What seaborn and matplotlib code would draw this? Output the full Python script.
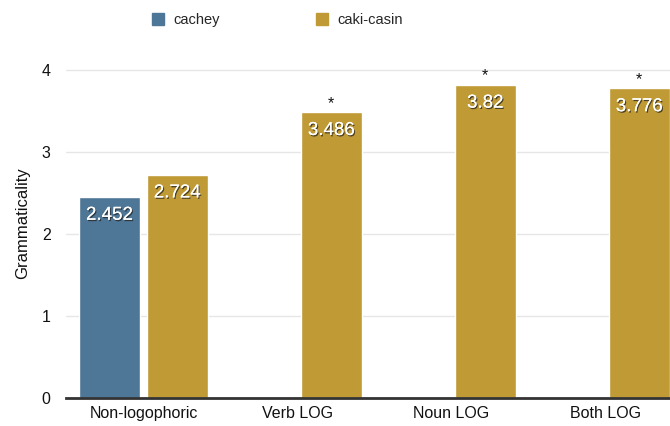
import numpy as np
import pandas as pd
import matplotlib
matplotlib.use("Agg")
import matplotlib.pyplot as plt
import matplotlib.patheffects as pe
from matplotlib.lines import Line2D
import seaborn as sns

# Mean grammaticality ratings per condition
categories = ["Non-logophoric", "Verb LOG", "Noun LOG", "Both LOG"]
cachey = [2.452, np.nan, np.nan, np.nan]
caki_casin = [2.724, 3.486, 3.82, 3.776]
significance = ["", "*", "*", "*"]
series_names = ["cachey", "caki-casin"]
colors = ["#4e7696", "#c09a34"]

rows = []
for cat, a, b in zip(categories, cachey, caki_casin):
    if not np.isnan(a):
        rows.append({"condition": cat, "marker": series_names[0], "rating": a})
    if not np.isnan(b):
        rows.append({"condition": cat, "marker": series_names[1], "rating": b})
df = pd.DataFrame(rows)

sns.set_theme(style="white")
plt.rcParams["font.family"] = ["Liberation Sans", "DejaVu Sans"]

fig = plt.figure(figsize=(6.7, 4.26), dpi=100)
ax = fig.add_axes([66 / 670, 28 / 426, 604 / 670, 350 / 426])

sns.barplot(data=df, x="condition", y="rating", hue="marker",
            order=categories, hue_order=series_names, palette=colors,
            width=0.88, gap=0.1, dodge=True, errorbar=None,
            saturation=1, legend=False, ax=ax, zorder=3)

ax.set_xlim(-0.503, 3.419)
ax.set_ylim(0, 4.27)
ax.set_yticks([0, 1, 2, 3, 4])
ax.yaxis.grid(True, color="#e6e6e6", linewidth=1, zorder=0)
ax.set_axisbelow(True)
for side in ["top", "right", "left"]:
    ax.spines[side].set_visible(False)
ax.spines["bottom"].set_color("#333333")
ax.spines["bottom"].set_linewidth(2)
ax.spines["bottom"].set_zorder(4)
ax.tick_params(axis="both", length=0, labelsize=11.5, colors="#111111")
ax.tick_params(axis="y", pad=11)
ax.tick_params(axis="x", pad=6)
ax.set_xlabel("")
ax.set_ylabel("Grammaticality", fontsize=12, color="#111111", labelpad=8)

# Value labels inside the bar tops, with a soft drop shadow
shadow = [pe.withSimplePatchShadow(offset=(0.8, -1.0), shadow_rgbFace="#222222", alpha=0.75),
          pe.Normal()]
for cont in ax.containers:
    for bar in cont.patches:
        h = bar.get_height()
        if np.isnan(h) or h == 0:
            continue
        xc = bar.get_x() + bar.get_width() / 2
        ax.annotate(f"{h:g}", (xc, h), xytext=(0, -7), textcoords="offset points",
                    ha="center", va="top", fontsize=13.5, color="white",
                    path_effects=shadow, zorder=5)

# Significance stars above the caki-casin bars
gold = ax.containers[-1]
for bar, star in zip(gold.patches, significance):
    if star:
        xc = bar.get_x() + bar.get_width() / 2
        ax.annotate(star, (xc, bar.get_height()), xytext=(0, 1), textcoords="offset points",
                    ha="center", va="bottom", fontsize=11.5, color="#111111")

handles = [Line2D([0], [0], marker="s", linestyle="none", markersize=8,
                  markerfacecolor=c, markeredgecolor=c) for c in colors]
fig.legend(handles, series_names, loc="upper left", bbox_to_anchor=(130 / 670, 1.0),
           ncol=2, frameon=False, fontsize=10.5, handletextpad=0.05,
           columnspacing=6.0, borderaxespad=0.5)

fig.savefig("out.png", dpi=100)
